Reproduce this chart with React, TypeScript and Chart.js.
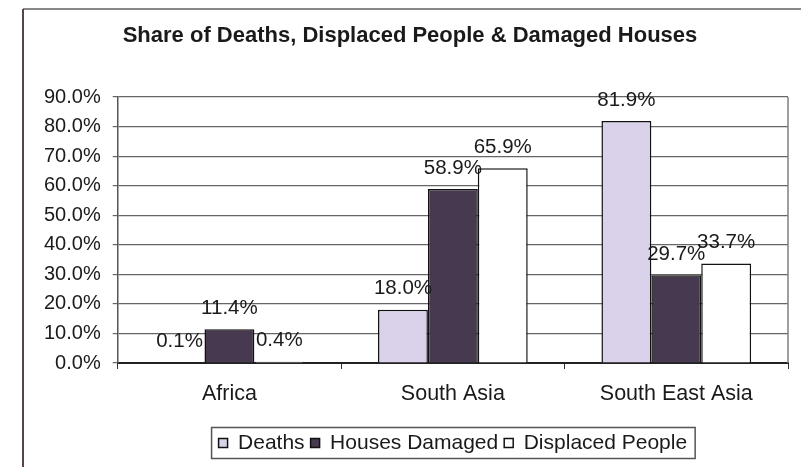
import React, { useEffect, useRef } from "react";
import { Chart, registerables } from "chart.js";

Chart.register(...registerables);

const categories = ["Africa", "South Asia", "South East Asia"];
const deaths = [0.1, 18.0, 81.9];
const housesDamaged = [11.4, 58.9, 29.7];
const displacedPeople = [0.4, 65.9, 33.7];
const seriesNames = ["Deaths", "Houses Damaged", "Displaced People"];
const titleText = "Share of Deaths, Displaced People & Damaged Houses";

const FONT = "'Liberation Sans', Arial, sans-serif";

const framePlugin = {
  id: "frame",
  beforeDraw(chart: any) {
    const ctx = chart.ctx;
    ctx.save();
    ctx.fillStyle = "#ffffff";
    ctx.fillRect(0, 0, chart.width, chart.height);
    ctx.strokeStyle = "#888888";
    ctx.lineWidth = 2;
    ctx.beginPath();
    ctx.moveTo(23, 9);
    ctx.lineTo(chart.width, 9);
    ctx.stroke();
    ctx.strokeStyle = "#5a4050";
    ctx.beginPath();
    ctx.moveTo(23, 9);
    ctx.lineTo(23, chart.height);
    ctx.stroke();
    ctx.restore();
  },
  afterDraw(chart: any) {
    const ctx = chart.ctx;
    const a = chart.chartArea;
    ctx.save();
    ctx.strokeStyle = "#808080";
    ctx.lineWidth = 1.5;
    ctx.beginPath();
    ctx.moveTo(a.right, a.top);
    ctx.lineTo(a.right, a.bottom);
    ctx.stroke();
    const boxes = chart.legend && chart.legend.legendHitBoxes;
    if (boxes && boxes.length) {
      let minX = Infinity, maxX = -Infinity, minY = Infinity, maxY = -Infinity;
      boxes.forEach((b: any) => {
        minX = Math.min(minX, b.left);
        maxX = Math.max(maxX, b.left + b.width);
        minY = Math.min(minY, b.top);
        maxY = Math.max(maxY, b.top + b.height);
      });
      ctx.strokeStyle = "#555555";
      ctx.lineWidth = 1.5;
      ctx.strokeRect(minX - 7, minY - 5, maxX - minX + 15, maxY - minY + 10);
    }
    ctx.restore();
  },
};

const labelPlugin = {
  id: "barLabels",
  afterDatasetsDraw(chart: any) {
    const ctx = chart.ctx;
    ctx.save();
    ctx.font = `20.5px ${FONT}`;
    ctx.fillStyle = "#1a1a1a";
    ctx.textAlign = "center";
    ctx.textBaseline = "middle";
    chart.data.datasets.forEach((ds: any, i: number) => {
      const meta = chart.getDatasetMeta(i);
      meta.data.forEach((el: any, j: number) => {
        const v = ds.data[j];
        ctx.fillText(v.toFixed(1) + "%", el.x, el.y - 21);
      });
    });
    ctx.restore();
  },
};

export default function App() {
  const ref = useRef<HTMLCanvasElement>(null);
  useEffect(() => {
    document.body.style.margin = "0";
    const chart = new Chart(ref.current!, {
      type: "bar",
      data: {
        labels: categories,
        datasets: [
          {
            label: seriesNames[0],
            data: deaths,
            backgroundColor: "#d9d2ea",
            borderColor: "#111111",
            borderWidth: 1.5,
          },
          {
            label: seriesNames[1],
            data: housesDamaged,
            backgroundColor: "#47394f",
            borderColor: "#111111",
            borderWidth: 1.5,
          },
          {
            label: seriesNames[2],
            data: displacedPeople,
            backgroundColor: "#ffffff",
            borderColor: "#111111",
            borderWidth: 1.5,
          },
        ],
      },
      options: {
        animation: false,
        responsive: true,
        maintainAspectRatio: false,
        layout: { padding: { left: 32, right: 13, top: 0, bottom: 3.5 } },
        datasets: { bar: { barPercentage: 1, categoryPercentage: 0.67 } },
        scales: {
          x: {
            grid: {
              display: true,
              drawOnChartArea: false,
              tickLength: 6,
              color: "#333333",
            },
            border: { color: "#222222", width: 2 },
            ticks: {
              color: "#1a1a1a",
              font: { family: FONT, size: 21.5 },
              padding: 12,
            },
            afterFit: (scale: any) => {
              scale.height += 7.7;
            },
          },
          y: {
            min: 0,
            max: 90,
            ticks: {
              stepSize: 10,
              color: "#1a1a1a",
              font: { family: FONT, size: 20 },
              padding: 12,
              callback: (v: any) => Number(v).toFixed(1) + "%",
            },
            grid: { color: "#666666", lineWidth: 1.2, tickLength: 5 },
            border: { color: "#555555", width: 1.5 },
          },
        },
        plugins: {
          title: {
            display: true,
            text: titleText,
            color: "#1a1a1a",
            font: { family: FONT, size: 22, weight: "bold" },
            padding: { top: 22.8, bottom: 47.8 },
          },
          legend: {
            position: "bottom",
            fullSize: false,
            labels: {
              color: "#1a1a1a",
              font: { family: FONT, size: 21 },
              boxWidth: 9,
              boxHeight: 9,
              padding: 6,
            },
          },
          tooltip: { enabled: false },
        },
      },
      plugins: [framePlugin, labelPlugin],
    });
    return () => chart.destroy();
  }, []);
  return (
    <div style={{ width: 801, height: 467, position: "relative" }}>
      <canvas ref={ref} />
    </div>
  );
}
